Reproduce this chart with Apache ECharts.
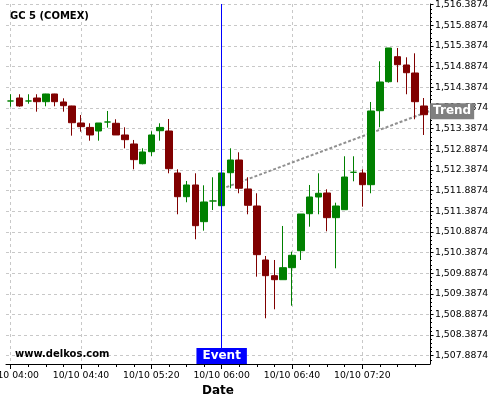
<!DOCTYPE html>
<html><head><meta charset="utf-8">
<script src="https://cdn.jsdelivr.net/npm/echarts@6/dist/echarts.min.js"></script>
<style>html,body{margin:0;padding:0;background:#fff}#c{width:500px;height:400px}</style>
</head><body><div id="c"></div>
<script>
const titleText = 'GC 5 (COMEX)';
const footerText = 'www.delkos.com';
const datePrefix = '10/10';
const times = ['04:00','04:05','04:10','04:15','04:20','04:25','04:30','04:35','04:40','04:45','04:50','04:55',
  '05:00','05:05','05:10','05:15','05:20','05:25','05:30','05:35','05:40','05:45','05:50','05:55',
  '06:00','06:05','06:10','06:15','06:20','06:25','06:30','06:35','06:40','06:45','06:50','06:55',
  '07:00','07:05','07:10','07:15','07:20','07:25','07:30','07:35','07:40','07:45','07:50','07:55'];
const opens = [1514.056,1514.128,1514.056,1514.128,1514.039,1514.226,1514.032,1513.935,1513.523,1513.416,1513.329,1513.547,
  1513.516,1513.233,1513.015,1512.537,1512.828,1513.336,1513.329,1512.312,1511.738,1512.022,1511.133,1511.634,
  1511.520,1512.319,1512.627,1511.925,1511.513,1510.205,1509.825,1509.728,1510.019,1510.430,1511.326,1511.731,
  1511.828,1511.230,1511.423,1512.329,1512.312,1512.029,1513.821,1514.523,1515.129,1514.928,1514.734,1513.935];
const closes = [1514.056,1513.935,1514.056,1514.039,1514.226,1514.039,1513.942,1513.530,1513.434,1513.233,1513.523,1513.547,
  1513.233,1513.119,1512.635,1512.821,1513.233,1513.416,1512.416,1511.738,1512.022,1511.036,1511.610,1511.634,
  1512.312,1512.627,1511.942,1511.530,1510.334,1509.825,1509.728,1510.019,1510.319,1511.319,1511.731,1511.821,
  1511.230,1511.513,1512.215,1512.329,1512.029,1513.814,1514.516,1515.340,1514.935,1514.741,1514.039,1513.724];
const lows = [1513.918,1513.918,1513.990,1513.797,1513.928,1513.928,1513.797,1513.216,1513.313,1513.094,1513.094,1513.410,
  1513.233,1512.910,1512.402,1512.523,1512.724,1513.094,1512.305,1511.312,1511.603,1510.707,1510.915,1511.416,
  1511.500,1511.942,1511.821,1511.312,1509.801,1508.793,1509.011,1509.728,1509.098,1510.205,1511.012,1511.312,
  1510.900,1510.004,1511.423,1512.111,1511.496,1511.821,1513.419,1514.500,1514.509,1514.219,1513.613,1513.233];
const highs = [1514.219,1514.219,1514.219,1514.219,1514.230,1514.230,1514.121,1513.940,1513.717,1513.516,1513.523,1513.814,
  1513.613,1513.419,1513.112,1512.910,1513.322,1513.516,1513.620,1512.402,1512.119,1512.305,1512.014,1512.208,
  1512.320,1512.910,1512.813,1512.208,1511.821,1510.302,1510.205,1511.029,1510.406,1511.319,1512.022,1512.305,
  1511.917,1511.593,1512.717,1512.717,1512.402,1514.032,1515.017,1515.340,1515.340,1515.114,1515.211,1514.128];
const xTickLabels = ['04:00','04:40','05:20','06:00','06:40','07:20'];
const yTickLabels = [1507.8874,1508.3874,1508.8874,1509.3874,1509.8874,1510.3874,1510.8874,1511.3874,1511.8874,
  1512.3874,1512.8874,1513.3874,1513.8874,1514.3874,1514.8874,1515.3874,1515.8874,1516.3874];
const trendTimes = ['06:00','07:58'];
const trendValues = [1511.927, 1513.807];
const trendLabel = 'Trend';
const eventTime = '06:00';
const eventLabel = 'Event';
const xAxisName = 'Date';

const toMin = t => { const p = t.split(':').map(Number); return p[0]*60 + p[1]; };
const pad = n => (n < 10 ? '0' : '') + n;
const fmtX = v => datePrefix + ' ' + pad(Math.floor(v/60)) + ':' + pad(Math.round(v % 60));
const fmtY = v => { const s = Number(v).toFixed(4).split('.'); return s[0].replace(/\B(?=(\d{3})+(?!\d))/g, ',') + '.' + s[1]; };

const X_MIN = 237.33, X_MAX = 478.5, Y_MIN = 1507.686, Y_MAX = 1516.405;
const xMinor = []; for (let m = 240; m < X_MAX; m += 10) xMinor.push(m);
const yMinor = []; for (let k = 0; ; k++) { const v = +(1507.7874 + k*0.1).toFixed(4); if (v > Y_MAX) break; yMinor.push(v); }

const candles = times.map((t, i) => [toMin(t), opens[i], closes[i], lows[i], highs[i]]);
const trend = trendTimes.map((t, i) => [toMin(t), trendValues[i]]);
const FONT = 'DejaVu Sans';
const GRID = {left: 6, right: 70, top: 4, bottom: 36, containLabel: false, outerBoundsMode: 'none'};

const chart = echarts.init(document.getElementById('c'), null, {renderer: 'canvas'});
chart.setOption({
  animation: false,
  backgroundColor: '#fff',
  title: [
    {text: titleText, left: 10, top: 10, padding: 0, textStyle: {fontFamily: FONT, fontSize: 10, fontWeight: 'bold', color: '#000', lineHeight: 12}},
    {text: footerText, left: 15, top: 348, padding: 0, textStyle: {fontFamily: FONT, fontSize: 10, fontWeight: 'bold', color: '#000', lineHeight: 12}}
  ],
  grid: [Object.assign({}, GRID), Object.assign({}, GRID)],
  xAxis: [{
    type: 'value', gridIndex: 0, min: X_MIN, max: X_MAX, position: 'bottom',
    name: xAxisName, nameLocation: 'middle', nameGap: 19,
    nameTextStyle: {fontFamily: FONT, fontSize: 12, fontWeight: 'bold', color: '#000'},
    axisLine: {show: true, lineStyle: {color: '#000', width: 1}},
    axisTick: {show: true, length: 5, lineStyle: {color: '#000'}, customValues: xTickLabels.map(toMin)},
    axisLabel: {show: true, margin: 7, fontFamily: FONT, fontSize: 9.3, color: '#000', customValues: xTickLabels.map(toMin), formatter: fmtX, hideOverlap: false, showMinLabel: true, showMaxLabel: true},
    splitLine: {show: true, lineStyle: {color: '#c8c8c8', type: [3, 3], width: 1}}
  }, {
    type: 'value', gridIndex: 1, min: X_MIN, max: X_MAX, position: 'bottom',
    axisLine: {show: false},
    axisTick: {show: true, length: 3, lineStyle: {color: '#000'}, customValues: xMinor},
    axisLabel: {show: false},
    splitLine: {show: false}
  }],
  yAxis: [{
    type: 'value', gridIndex: 0, min: Y_MIN, max: Y_MAX, position: 'right', scale: true,
    axisLine: {show: true, lineStyle: {color: '#000', width: 1}},
    axisTick: {show: true, length: 3.5, lineStyle: {color: '#000'}, customValues: yTickLabels},
    axisLabel: {show: true, margin: 5, fontFamily: FONT, fontSize: 9.3, color: '#000', customValues: yTickLabels, formatter: fmtY},
    splitLine: {show: true, lineStyle: {color: '#c8c8c8', type: [3, 3], width: 1}}
  }, {
    type: 'value', gridIndex: 1, min: Y_MIN, max: Y_MAX, position: 'right', scale: true,
    axisLine: {show: false},
    axisTick: {show: true, length: 2, lineStyle: {color: '#000'}, customValues: yMinor},
    axisLabel: {show: false},
    splitLine: {show: false}
  }],
  series: [{
    type: 'line', xAxisIndex: 0, yAxisIndex: 0, z: 1,
    data: trend, symbol: 'none', silent: true,
    lineStyle: {color: '#909090', width: 2, type: [3, 2]},
    markPoint: {
      symbol: 'rect', symbolSize: 0, z: 10,
      data: [
        {coord: [toMin(trendTimes[1]), trendValues[1]], label: {show: true, formatter: trendLabel, position: 'right', distance: 1,
          backgroundColor: '#808080', color: '#fff', fontFamily: FONT, fontSize: 12, fontWeight: 'bold', lineHeight: 14, padding: [1, 3, 1, 3]}},
        {coord: [toMin(eventTime), Y_MIN], label: {show: true, formatter: eventLabel, position: 'top', distance: 0,
          backgroundColor: '#0000ff', color: '#fff', fontFamily: FONT, fontSize: 12, fontWeight: 'bold', lineHeight: 14, padding: [1, 6, 1, 6]}}
      ]
    }
  }, {
    type: 'candlestick', xAxisIndex: 0, yAxisIndex: 0, z: 2,
    data: candles, encode: {x: 0, y: [1, 2, 3, 4]},
    barWidth: 7,
    itemStyle: {color: '#008000', color0: '#800000', borderColor: '#008000', borderColor0: '#800000', borderColorDoji: '#008000', borderWidth: 1},
    markLine: {
      silent: true, symbol: 'none', z: 5,
      lineStyle: {color: '#0000ff', width: 1, type: 'solid'},
      label: {show: false},
      data: [{xAxis: toMin(eventTime)}]
    }
  }]
});
</script></body></html>
